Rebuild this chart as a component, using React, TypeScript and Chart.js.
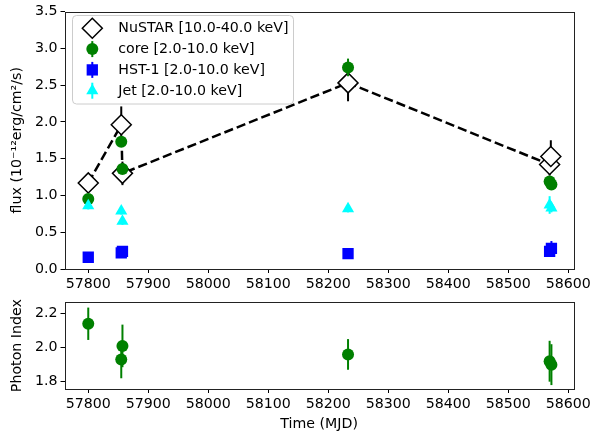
import { useEffect, useRef } from "react";
import { Chart, registerables } from "chart.js";
Chart.register(...registerables);

// ---- data ----
const xTickValues = [57800, 57900, 58000, 58100, 58200, 58300, 58400, 58500, 58600];
const fluxTickValues = [0, 0.5, 1.0, 1.5, 2.0, 2.5, 3.0, 3.5];
const indexTickValues = [1.8, 2.0, 2.2];

const nustarMJD = [57800, 57855, 57857, 58233, 58569, 58571];
const nustarFlux = [1.17, 1.96, 1.30, 2.53, 1.42, 1.53];
const nustarErr = [0.11, 0.25, 0.16, 0.25, 0.15, 0.22];

const coreMJD = [57800, 57855, 57857, 58233, 58569, 58572];
const coreFlux = [0.95, 1.73, 1.36, 2.74, 1.19, 1.15];
const coreFluxErr = [0.04, 0.06, 0.05, 0.12, 0.05, 0.05];

const hstMJD = [57800, 57855, 57857, 58233, 58569, 58572];
const hstFlux = [0.16, 0.22, 0.24, 0.21, 0.24, 0.28];
const hstErr = [0.03, 0.03, 0.04, 0.03, 0.05, 0.1];

const jetMJD = [57800, 57855, 57857, 58233, 58569, 58572];
const jetFlux = [0.86, 0.79, 0.65, 0.82, 0.87, 0.83];
const jetErr = [0.05, 0.05, 0.05, 0.05, 0.12, 0.06];

const indexMJD = [57800, 57855, 57857, 58233, 58569, 58572];
const photonIndex = [2.14, 1.93, 2.01, 1.96, 1.92, 1.9];
const photonIndexErr = [0.095, 0.11, 0.125, 0.09, 0.12, 0.12];

const legendLabels = [
  "NuSTAR [10.0-40.0 keV]",
  "core [2.0-10.0 keV]",
  "HST-1 [2.0-10.0 keV]",
  "Jet [2.0-10.0 keV]",
];

const X_MIN = 57760.4;
const X_MAX = 58609.4;

const FONT = "'DejaVu Sans', sans-serif";
const FS = 14.2;

Chart.defaults.font.family = FONT;
Chart.defaults.font.size = FS;
Chart.defaults.color = "#000";

const pts = (xs: number[], ys: number[]) => xs.map((x, i) => ({ x, y: ys[i] }));

const errorBarPlugin = {
  id: "errbars",
  beforeDatasetDraw(chart: any, args: any) {
    const ds = chart.data.datasets[args.index];
    if (!ds.errors) return;
    const meta = args.meta;
    const ctx = chart.ctx;
    const ys = chart.scales.y;
    ctx.save();
    ctx.strokeStyle = ds.errorColor;
    ctx.lineWidth = ds.errorWidth;
    ds.data.forEach((p: any, i: number) => {
      const e = ds.errors[i];
      const x = meta.data[i].x;
      ctx.beginPath();
      ctx.moveTo(x, ys.getPixelForValue(p.y - e));
      ctx.lineTo(x, ys.getPixelForValue(p.y + e));
      ctx.stroke();
    });
    ctx.restore();
  },
};

const framePlugin = {
  id: "frame",
  afterDatasetsDraw(chart: any) {
    const { ctx, chartArea: a } = chart;
    ctx.save();
    ctx.strokeStyle = "#222";
    ctx.lineWidth = 1;
    ctx.strokeRect(Math.round(a.left) + 0.5, Math.round(a.top) + 0.5, Math.round(a.right - a.left), Math.round(a.bottom - a.top));
    ctx.restore();
  },
};

function drawMarker(ctx: CanvasRenderingContext2D, style: string, x: number, y: number, r: number) {
  ctx.beginPath();
  if (style === "circle") {
    ctx.arc(x, y, r, 0, Math.PI * 2);
  } else if (style === "rectRot") {
    ctx.moveTo(x - r, y);
    ctx.lineTo(x, y - r);
    ctx.lineTo(x + r, y);
    ctx.lineTo(x, y + r);
    ctx.closePath();
  } else if (style === "rect") {
    const s = r * Math.SQRT1_2;
    ctx.rect(x - s, y - s, 2 * s, 2 * s);
  } else if (style === "triangle") {
    for (let k = 0; k < 3; k++) {
      const a = (k * 2 * Math.PI) / 3;
      const px = x + Math.sin(a) * r;
      const py = y - Math.cos(a) * r;
      if (k === 0) ctx.moveTo(px, py);
      else ctx.lineTo(px, py);
    }
    ctx.closePath();
  }
}

const legendPlugin = {
  id: "boxlegend",
  afterDraw(chart: any) {
    const ctx: CanvasRenderingContext2D = chart.ctx;
    const bx = 72.5, by = 15.5, bw = 221, bh = 88.5, rr = 4;
    ctx.save();
    ctx.beginPath();
    ctx.moveTo(bx + rr, by);
    ctx.arcTo(bx + bw, by, bx + bw, by + bh, rr);
    ctx.arcTo(bx + bw, by + bh, bx, by + bh, rr);
    ctx.arcTo(bx, by + bh, bx, by, rr);
    ctx.arcTo(bx, by, bx + bw, by, rr);
    ctx.closePath();
    ctx.fillStyle = "rgba(255,255,255,0.8)";
    ctx.fill();
    ctx.strokeStyle = "#cccccc";
    ctx.lineWidth = 1;
    ctx.stroke();

    const dsets = chart.data.datasets;
    dsets.forEach((ds: any, i: number) => {
      const y = 28.3 + i * 20.8;
      const mx = 92.3;
      ctx.strokeStyle = ds.errorColor;
      ctx.lineWidth = ds.errorWidth;
      ctx.beginPath();
      ctx.moveTo(mx, y - 8);
      ctx.lineTo(mx, y + 8);
      ctx.stroke();
      drawMarker(ctx, ds.pointStyle, mx, y, ds.pointRadius);
      ctx.fillStyle = ds.backgroundColor;
      ctx.fill();
      if (ds.borderWidth > 0) {
        ctx.strokeStyle = ds.pointBorderColor;
        ctx.lineWidth = ds.pointBorderWidth;
        ctx.stroke();
      }
      ctx.fillStyle = "#000";
      ctx.font = `${FS}px ${FONT}`;
      ctx.textAlign = "left";
      ctx.textBaseline = "middle";
      ctx.fillText(legendLabels[i], 118.3, y + 0.5);
    });
    ctx.restore();
  },
};

const tickGrid = {
  display: true,
  drawOnChartArea: false,
  drawTicks: true,
  tickLength: 4,
  tickColor: "#000",
  color: "#000",
  lineWidth: 1,
};

function xAxis(height: number, withTitle: boolean) {
  return {
    type: "linear",
    min: X_MIN,
    max: X_MAX,
    grid: tickGrid,
    border: { display: false },
    afterBuildTicks: (s: any) => {
      s.ticks = xTickValues.map((value) => ({ value }));
    },
    afterFit: (s: any) => {
      s.height = height;
    },
    ticks: {
      autoSkip: false,
      maxRotation: 0,
      padding: 3,
      font: { size: FS, family: FONT },
      color: "#000",
      callback: (v: any) => String(v),
    },
    title: withTitle
      ? { display: true, text: "Time (MJD)", font: { size: FS, family: FONT }, color: "#000", padding: { top: 0, bottom: 1.5 } }
      : { display: false },
  };
}

function yAxis(min: number, max: number, tickVals: number[], title: string) {
  return {
    type: "linear",
    min,
    max,
    grid: tickGrid,
    border: { display: false },
    afterBuildTicks: (s: any) => {
      s.ticks = tickVals.map((value) => ({ value }));
    },
    afterFit: (s: any) => {
      s.width = 64.5;
    },
    ticks: {
      autoSkip: false,
      padding: 3,
      font: { size: FS, family: FONT },
      color: "#000",
      callback: (v: any) => Number(v).toFixed(1),
    },
    title: { display: true, text: title, font: { size: FS, family: FONT }, color: "#000", padding: { top: 8.5, bottom: 0 } },
  };
}

export default function App() {
  const topRef = useRef<HTMLCanvasElement>(null);
  const botRef = useRef<HTMLCanvasElement>(null);

  useEffect(() => {
    const top = new Chart(topRef.current as HTMLCanvasElement, {
      type: "scatter",
      data: {
        datasets: [
          {
            label: legendLabels[0],
            data: pts(nustarMJD, nustarFlux),
            showLine: true,
            borderColor: "#000",
            borderWidth: 2.5,
            borderDash: [9.25, 4],
            pointStyle: "rectRot",
            pointRadius: 10,
            pointHoverRadius: 10,
            backgroundColor: "#ffffff",
            pointBackgroundColor: "#ffffff",
            pointBorderColor: "#000",
            pointBorderWidth: 1.5,
            errors: nustarErr,
            errorColor: "#000",
            errorWidth: 2,
            order: 4,
          } as any,
          {
            label: legendLabels[1],
            data: pts(coreMJD, coreFlux),
            pointStyle: "circle",
            pointRadius: 6,
            pointHoverRadius: 6,
            backgroundColor: "#008000",
            pointBackgroundColor: "#008000",
            borderWidth: 0,
            pointBorderWidth: 0,
            errors: coreFluxErr,
            errorColor: "#008000",
            errorWidth: 2,
            order: 3,
          } as any,
          {
            label: legendLabels[2],
            data: pts(hstMJD, hstFlux),
            pointStyle: "rect",
            pointRadius: 8,
            pointHoverRadius: 8,
            backgroundColor: "#0000ff",
            pointBackgroundColor: "#0000ff",
            borderWidth: 0,
            pointBorderWidth: 0,
            errors: hstErr,
            errorColor: "#0000ff",
            errorWidth: 2,
            order: 2,
          } as any,
          {
            label: legendLabels[3],
            data: pts(jetMJD, jetFlux),
            pointStyle: "triangle",
            pointRadius: 7,
            pointHoverRadius: 7,
            backgroundColor: "#00ffff",
            pointBackgroundColor: "#00ffff",
            borderWidth: 0,
            pointBorderWidth: 0,
            errors: jetErr,
            errorColor: "#00ffff",
            errorWidth: 2,
            order: 1,
          } as any,
        ],
      },
      options: {
        responsive: false,
        animation: false,
        events: [],
        layout: { padding: { left: 0, right: 19.3, top: 9, bottom: 0 }, autoPadding: false },
        plugins: { legend: { display: false }, tooltip: { enabled: false } },
        scales: {
          x: xAxis(21, false) as any,
          y: yAxis(0, 3.5, fluxTickValues, "flux (10⁻¹²erg/cm²/s)") as any,
        },
      } as any,
      plugins: [errorBarPlugin, framePlugin, legendPlugin],
    });

    const bot = new Chart(botRef.current as HTMLCanvasElement, {
      type: "scatter",
      data: {
        datasets: [
          {
            label: "core",
            data: pts(indexMJD, photonIndex),
            pointStyle: "circle",
            pointRadius: 6,
            pointHoverRadius: 6,
            backgroundColor: "#008000",
            pointBackgroundColor: "#008000",
            borderWidth: 0,
            pointBorderWidth: 0,
            errors: photonIndexErr,
            errorColor: "#008000",
            errorWidth: 2,
          } as any,
        ],
      },
      options: {
        responsive: false,
        animation: false,
        events: [],
        layout: { padding: { left: 0, right: 19.3, top: 12.3, bottom: 0 }, autoPadding: false },
        plugins: { legend: { display: false }, tooltip: { enabled: false } },
        scales: {
          x: xAxis(45, true) as any,
          y: yAxis(1.757, 2.266, indexTickValues, "Photon Index") as any,
        },
      } as any,
      plugins: [errorBarPlugin, framePlugin],
    });

    return () => {
      top.destroy();
      bot.destroy();
    };
  }, []);

  return (
    <div style={{ position: "absolute", left: 0, top: 0, width: 594, height: 434, background: "#fff" }}>
      <canvas ref={topRef} width={594} height={290} style={{ position: "absolute", left: 0, top: 0, width: 594, height: 290 }} />
      <canvas ref={botRef} width={594} height={144} style={{ position: "absolute", left: 0, top: 290, width: 594, height: 144 }} />
    </div>
  );
}
